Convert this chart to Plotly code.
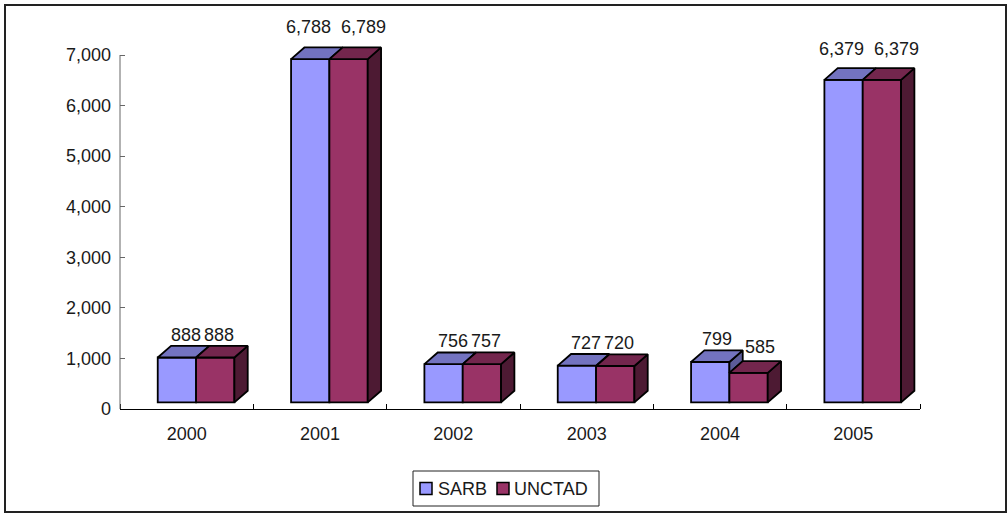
import plotly.graph_objects as go

# ---------------- data ----------------
years = ["2000", "2001", "2002", "2003", "2004", "2005"]
sarb = [888, 6788, 756, 727, 799, 6379]
unctad = [888, 6789, 757, 720, 585, 6379]
series_names = ["SARB", "UNCTAD"]
y_tick_vals = [0, 1000, 2000, 3000, 4000, 5000, 6000, 7000]

# ---------------- style ----------------
front_colors = ["#9999FF", "#993366"]
top_colors = ["#7373C0", "#73264D"]
side_colors = ["#5C5C99", "#4D1A33"]
FONT = "Liberation Sans, Arial, sans-serif"
TEXT = "#1a1a1a"
EDGE = dict(color="black", width=1.8)

BAR_W = 0.2875      # width of one bar (category units)
GROUP_LEFT = -0.217 # left edge of the group relative to category centre
DEPTH_X = 0.10      # 3-D depth, x (category units)
DEPTH_Y = 231       # 3-D depth, y (value units)
BASE = 130          # front-face floor lift (value units)
Y_MAX = 7692
CHAR_SEP = 0.0825   # label separation per character (category units)

# plot area in pixels (for paper-coordinate decorations)
PL, PR, PT, PB = 120, 920, 20, 409
def px(x):
    return (x - PL) / (PR - PL)
def py(y):
    return (PB - y) / (PB - PT)

series = [sarb, unctad]
xs = list(range(len(years)))

fig = go.Figure()

# front faces as bars
for s, vals in enumerate(series):
    fig.add_trace(go.Bar(
        x=[i + GROUP_LEFT + s * BAR_W + BAR_W / 2 for i in xs],
        y=vals, base=BASE, width=BAR_W, name=series_names[s],
        marker=dict(color=front_colors[s], line=EDGE),
        cliponaxis=False, hoverinfo="skip", showlegend=False,
    ))

# top and side faces as filled polygons
for s, vals in enumerate(series):
    side_x, side_y, top_x, top_y = [], [], [], []
    for i in xs:
        v = vals[i]
        left = i + GROUP_LEFT + s * BAR_W
        right = left + BAR_W
        top = BASE + v
        low = BASE
        draw_side = True
        if s < len(series) - 1:
            nxt = series[s + 1][i]
            if nxt >= v:
                draw_side = False
            else:
                low = BASE + nxt
        if draw_side:
            side_x += [right, right + DEPTH_X, right + DEPTH_X, right, right, None]
            side_y += [low, low + DEPTH_Y, top + DEPTH_Y, top, low, None]
        top_x += [left, right, right + DEPTH_X, left + DEPTH_X, left, None]
        top_y += [top, top, top + DEPTH_Y, top + DEPTH_Y, top, None]
    fig.add_trace(go.Scatter(
        x=side_x, y=side_y, mode="lines", fill="toself",
        fillcolor=side_colors[s], line=EDGE,
        showlegend=False, hoverinfo="skip"))
    fig.add_trace(go.Scatter(
        x=top_x, y=top_y, mode="lines", fill="toself",
        fillcolor=top_colors[s], line=EDGE,
        showlegend=False, hoverinfo="skip"))

# value labels
annotations = []
for i in xs:
    vals_i = [series[s][i] for s in range(len(series))]
    texts = [f"{v:,}" for v in vals_i]
    uneven = max(vals_i) - min(vals_i) > 100
    group_c = i + GROUP_LEFT + len(series) * BAR_W / 2 + DEPTH_X / 2
    sep = max(len(t) for t in texts) * CHAR_SEP
    for s in range(len(series)):
        v = vals_i[s]
        if uneven:
            # each label over its own bar; nudge a lower right bar's label clear of its neighbour
            cx = i + GROUP_LEFT + s * BAR_W + BAR_W / 2 + DEPTH_X / 2
            if s > 0 and v < vals_i[s - 1]:
                cx += DEPTH_X * 0.35
        else:
            cx = group_c + (s - (len(series) - 1) / 2) * sep
        annotations.append(dict(
            x=cx, y=BASE + v + DEPTH_Y + 0.0297 * v, xref="x", yref="y",
            text=texts[s], showarrow=False, yanchor="bottom", xanchor="center",
            yshift=-2 + (3 if uneven and s > 0 and v < vals_i[s - 1] else 0),
            font=dict(family=FONT, size=18, color=TEXT)))

# legend (drawn as a boxed key below the axis)
LEG_BOX = (413, 599, 471, 506)
LEG_ITEMS = [(420, 437), (497, 513)]   # swatch left, text left (px)
SW = 12
leg_cy = (LEG_BOX[2] + LEG_BOX[3]) / 2
shapes = [
    dict(type="line", xref="paper", x0=0, x1=0, yref="y", y0=0, y1=y_tick_vals[-1],
         line=dict(color="#666666", width=1)),
    dict(type="rect", xref="paper", yref="paper",
         x0=px(5), x1=px(1006), y0=py(512), y1=py(5),
         line=dict(color="#222222", width=2), fillcolor="rgba(0,0,0,0)"),
    dict(type="rect", xref="paper", yref="paper",
         x0=px(LEG_BOX[0]), x1=px(LEG_BOX[1]), y0=py(LEG_BOX[3]), y1=py(LEG_BOX[2]),
         line=dict(color="#222222", width=1), fillcolor="white"),
]
for s, (sx, tx) in enumerate(LEG_ITEMS):
    shapes.append(dict(type="rect", xref="paper", yref="paper",
                       x0=px(sx), x1=px(sx + SW), y0=py(leg_cy + SW / 2), y1=py(leg_cy - SW / 2),
                       line=dict(color="black", width=1.5), fillcolor=front_colors[s]))
    annotations.append(dict(x=px(tx), y=py(leg_cy), xref="paper", yref="paper",
                            text=series_names[s], showarrow=False, xanchor="left",
                            yanchor="middle", borderpad=0,
                            font=dict(family=FONT, size=18, color=TEXT)))

fig.update_layout(
    width=1007, height=514,
    margin=dict(l=PL, r=1007 - PR, t=PT, b=514 - PB),
    paper_bgcolor="white", plot_bgcolor="white",
    barmode="overlay", showlegend=False,
    font=dict(family=FONT, size=18, color=TEXT),
    annotations=annotations, shapes=shapes,
    xaxis=dict(range=[-0.5, len(years) - 0.5], tickmode="array", tickvals=xs,
               ticktext=years, ticks="", showline=True, linecolor="black", linewidth=1,
               showgrid=False, zeroline=False, ticklabelstandoff=8,
               tickfont=dict(size=18),
               minor=dict(tickmode="array", tickvals=[i - 0.5 for i in range(len(years) + 1)],
                          ticks="inside", ticklen=5, tickcolor="black", showgrid=False)),
    yaxis=dict(range=[0, Y_MAX], tickmode="array", tickvals=y_tick_vals, tickformat=",",
               ticks="inside", ticklen=5, tickcolor="#666666", showline=False,
               showgrid=False, zeroline=False, ticklabelstandoff=8,
               tickfont=dict(size=18)),
)

fig.write_html("out.html")
